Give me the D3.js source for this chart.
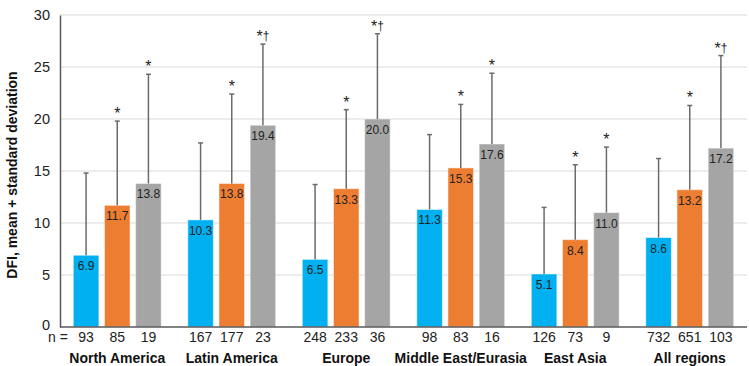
<!DOCTYPE html>
<html lang="en">
<head>
<meta charset="utf-8">
<title>DFI by region</title>
<script src="https://cdn.jsdelivr.net/npm/d3@7"></script>
<style>
  body { margin: 0; background: #fff; }
  text { font-family: "Liberation Sans", Arial, sans-serif; }
</style>
</head>
<body>
<script>
var w = 749, h = 366;

// regions along the x axis
var regions = ['North America', 'Latin America', 'Europe', 'Middle East/Eurasia', 'East Asia', 'All regions'];
var series = ['s1', 's2', 's3'];
var colors = ['#00b0f0', '#ed7d31', '#a5a5a5'];

// means (bar heights), one array per series
var means1 = [6.9, 10.3, 6.5, 11.3, 5.1, 8.6];
var means2 = [11.7, 13.8, 13.3, 15.3, 8.4, 13.2];
var means3 = [13.8, 19.4, 20.0, 17.6, 11.0, 17.2];

// mean + standard deviation (error bar tops)
var tops1 = [14.8, 17.7, 13.7, 18.5, 11.5, 16.2];
var tops2 = [19.8, 22.4, 20.9, 21.4, 15.6, 21.3];
var tops3 = [24.3, 27.2, 28.2, 24.4, 17.3, 26.1];

// sample sizes
var n1 = [93, 167, 248, 98, 126, 732];
var n2 = [85, 177, 233, 83, 73, 651];
var n3 = [19, 23, 36, 16, 9, 103];

// significance marks
var marks1 = ['', '', '', '', '', ''];
var marks2 = ['*', '*', '*', '*', '*', '*'];
var marks3 = ['*', '*\u2020', '*\u2020', '*', '*', '*\u2020'];

var yTicks = [0, 5, 10, 15, 20, 25, 30];

var means = [means1, means2, means3];
var tops = [tops1, tops2, tops3];
var ns = [n1, n2, n3];
var marks = [marks1, marks2, marks3];

var rows = [];
regions.forEach(function(r, i) {
  series.forEach(function(s, j) {
    rows.push({ region: r, series: s, k: j, mean: means[j][i], top: tops[j][i], n: ns[j][i], mark: marks[j][i] });
  });
});

var padL = 60, padR = 747, padT = 15, padB = 327;

var x0 = d3.scaleBand().domain(regions).range([padL, padR]).paddingInner(0).paddingOuter(0);
var x1 = d3.scaleBand().domain(series).range([13.3, x0.bandwidth() - 13.3]).paddingInner(0.18).paddingOuter(0);
var y = d3.scaleLinear().domain([0, 30]).range([padB, padT]);

var svg = d3.select('body').append('svg').attr('width', w).attr('height', h);

// gridlines
svg.append('g')
  .selectAll('line')
  .data(yTicks.slice(1))
  .enter().append('line')
  .attr('x1', padL).attr('x2', padR)
  .attr('y1', function(d) { return y(d); })
  .attr('y2', function(d) { return y(d); })
  .attr('stroke', '#d9d9d9').attr('stroke-width', 1.2);

// y axis
var yAxis = d3.axisLeft(y).tickValues(yTicks).tickSize(0).tickPadding(10);
var gy = svg.append('g').attr('transform', 'translate(' + padL + ',0)').call(yAxis);
gy.select('.domain').attr('stroke', '#595959').attr('stroke-width', 1.5);
gy.selectAll('text').attr('font-size', '14.5px').attr('fill', '#222')
  .attr('font-family', '"Liberation Sans", Arial, sans-serif');
gy.selectAll('.tick').filter(function(d) { return d === 0; })
  .select('text').attr('y', -2);

var xpos = function(d) { return x0(d.region) + x1(d.series); };

// bars
svg.append('g').selectAll('rect')
  .data(rows).enter().append('rect')
  .attr('x', xpos)
  .attr('y', function(d) { return y(d.mean); })
  .attr('width', x1.bandwidth())
  .attr('height', function(d) { return y(0) - y(d.mean); })
  .attr('fill', function(d) { return colors[d.k]; })
  .attr('stroke', '#fff').attr('stroke-opacity', 0.5).attr('stroke-width', 1);

// error bars
var eb = svg.append('g').attr('stroke', '#6b6b6b').attr('stroke-width', 1.5);
eb.selectAll('line.v').data(rows).enter().append('line')
  .attr('x1', function(d) { return xpos(d) + x1.bandwidth() / 2; })
  .attr('x2', function(d) { return xpos(d) + x1.bandwidth() / 2; })
  .attr('y1', function(d) { return y(d.mean); })
  .attr('y2', function(d) { return y(d.top); });
eb.selectAll('line.c').data(rows).enter().append('line')
  .attr('x1', function(d) { return xpos(d) + x1.bandwidth() / 2 - 2.5; })
  .attr('x2', function(d) { return xpos(d) + x1.bandwidth() / 2 + 2.5; })
  .attr('y1', function(d) { return y(d.top); })
  .attr('y2', function(d) { return y(d.top); });

// x axis line
svg.append('line')
  .attr('x1', padL).attr('x2', padR)
  .attr('y1', y(0)).attr('y2', y(0))
  .attr('stroke', '#595959').attr('stroke-width', 1.5);

// value labels
svg.append('g').selectAll('text')
  .data(rows).enter().append('text')
  .attr('x', function(d) { return xpos(d) + x1.bandwidth() / 2; })
  .attr('y', function(d) { return y(d.mean) + 15; })
  .attr('text-anchor', 'middle')
  .attr('font-size', '12px')
  .attr('fill', '#222')
  .text(function(d) { return d.mean.toFixed(1); });

// significance marks (asterisk plus smaller dagger)
var sig = svg.append('g').selectAll('text')
  .data(rows.filter(function(d) { return d.mark; })).enter().append('text')
  .attr('x', function(d) { return xpos(d) + x1.bandwidth() / 2; })
  .attr('y', function(d) { return y(d.top) - 2; })
  .attr('text-anchor', 'middle')
  .attr('font-size', '16px')
  .attr('fill', '#222');
sig.append('tspan').text(function(d) { return d.mark.charAt(0); });
sig.append('tspan')
  .attr('font-size', '12px')
  .attr('dy', -2)
  .text(function(d) { return d.mark.slice(1); });

// n labels
svg.append('g').selectAll('text')
  .data(rows).enter().append('text')
  .attr('x', function(d) { return xpos(d) + x1.bandwidth() / 2; })
  .attr('y', 342)
  .attr('text-anchor', 'middle')
  .attr('font-size', '14px')
  .attr('fill', '#222')
  .text(function(d) { return d.n; });

svg.append('text')
  .attr('x', 58).attr('y', 342)
  .attr('text-anchor', 'middle')
  .attr('font-size', '14px')
  .attr('fill', '#222')
  .text('n =');

// region labels
svg.append('g').selectAll('text')
  .data(regions).enter().append('text')
  .attr('x', function(d) { return x0(d) + x0.bandwidth() / 2; })
  .attr('y', 363)
  .attr('text-anchor', 'middle')
  .attr('font-size', '14px')
  .attr('font-weight', 'bold')
  .attr('fill', '#111')
  .text(function(d) { return d; });

// y axis title
svg.append('text')
  .attr('transform', 'translate(17,' + ((padT + padB) / 2 + 4) + ') rotate(-90)')
  .attr('text-anchor', 'middle')
  .attr('font-size', '14px')
  .attr('font-weight', 'bold')
  .attr('fill', '#111')
  .text('DFI, mean + standard deviation');
</script>
</body>
</html>
